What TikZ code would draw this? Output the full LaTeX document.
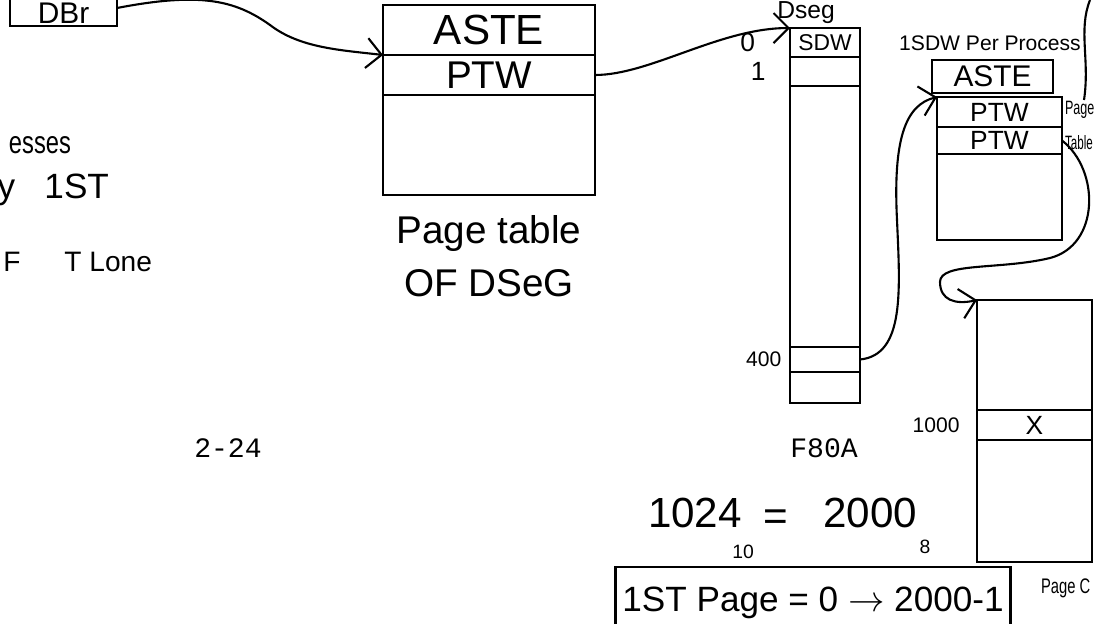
\documentclass[tikz,border=0pt]{standalone}
\usepackage{fontspec}
\setmainfont{Liberation Sans}
\newfontfamily\typefont{Liberation Mono}
\usetikzlibrary{positioning}
\usetikzlibrary{arrows.meta}

\begin{document}
\begin{tikzpicture}[
    x=0.02cm, y=-0.02cm,
    line width=1.2pt,
    hand/.style={font=\fontsize{#1}{#1}\selectfont},
    box/.style={draw, rectangle, inner sep=0pt, outer sep=0pt, align=center},
    typed/.style={font=\typefont\fontsize{16pt}{16pt}\selectfont},
    arrow/.style={-{Straight Barb[length=3mm, width=6mm]}}
]
\useasboundingbox (0,0) rectangle (1094,623);
\clip (0,0) rectangle (1094,623);

% ====================
%     Page table of DSeg
% ====================

% DBr register
\node[box, hand=17pt, minimum width=2.14cm, minimum height=0.72cm, text height=0.6cm, text depth=0pt] (dbr) at (63.5,8) {DBr};

% Nodes
\node[box, hand=24pt, minimum width=4.24cm, minimum height=1cm] (pt_aste) at (489,30) {ASTE};
\node[box, hand=22pt, minimum width=4.24cm, minimum height=0.8cm, below=0pt of pt_aste] (pt_ptw) {PTW};
\node[box, minimum width=4.24cm, minimum height=2cm, below=0pt of pt_ptw] (pt_rest) {};

% Label
\node[hand=22pt, align=center, below=8pt of pt_rest] (pt_label) {Page table\\[8pt]OF DSeG};

% ====================
%     DSeg
% ====================
\node[box, minimum width=1.4cm, minimum height=7.5cm] (dseg) at (825,215.5) {};
\node[box, hand=13pt, minimum width=1.4cm, minimum height=0.58cm, below=0pt of dseg.north] (dseg_0) {SDW};
\node[box, minimum width=1.4cm, minimum height=0.58cm, below=0pt of dseg_0] (dseg_1) {};
\node[box, minimum width=1.4cm, minimum height=0.5cm] (dseg_400) at (825,359.5) {};

\node[hand=14pt] (dseg_name) at (806,13) {Dseg};
\node[hand=15pt, left=16pt of dseg_0] (num_0) {0};
\node[hand=15pt, left=10pt of dseg_1] (num_1) {1};
\node[hand=12pt, left=1pt of dseg_400] (num_400) {400};

\node[typed] (page_no) at (228,448) {2-24};
\node[typed] (sheet_id) at (824,448) {F80A};

% ====================
%     Per process page table
% ====================
\node[hand=12pt] (per_proc) at (990,43) {1SDW Per Process};
\node[box, hand=17pt, minimum width=2.42cm, minimum height=0.66cm] (p_aste) at (992.5,76.5) {ASTE};
\node[box, hand=15pt, minimum width=2.5cm, minimum height=0.6cm] (p_ptw1) at (999.5,112) {PTW};
\node[box, hand=15pt, minimum width=2.5cm, minimum height=0.54cm, below=0pt of p_ptw1] (p_ptw2) {PTW};
\node[box, minimum width=2.5cm, minimum height=1.72cm, below=0pt of p_ptw2] (p_rest) {};

\node[hand=11pt, anchor=west, inner xsep=0pt] (pg_word) at (1064,110) {\scalebox{0.65}[1]{Page}};
\node[hand=11pt, anchor=west, inner xsep=0pt] (tab_word) at (1064,143) {\scalebox{0.6}[1]{Table}};

% ====================
%     Page
% ====================
\node[box, minimum width=2.3cm, minimum height=5.24cm, anchor=north west] (pg) at (977,300) {};
\node[box, hand=15pt, minimum width=2.3cm, minimum height=0.6cm, anchor=north west] (pg_x) at (977,410) {X};
\node[hand=12pt, left=6pt of pg_x] (num_1000) {1000};
\node[hand=12pt, anchor=west, inner xsep=0pt] (pgc_word) at (1040,588) {\scalebox{0.7}[1]{Page C}};

% ====================
%     Notes
% ====================
\node[hand=18pt, anchor=east, inner xsep=0pt] (note_a) at (72,145) {\scalebox{0.75}[1]{esses}};
\node[hand=20pt, anchor=east, inner xsep=0pt] (note_b) at (110,190) {y\ \ \ 1ST};
\node[hand=16pt, anchor=east, inner xsep=0pt] (note_c) at (153,262) {F\hspace{25pt}T\ Lone};

\node[hand=24pt] (dec) at (695,513) {1024};
\node[hand=11pt] (dec_base) at (743,552) {10};
\node[hand=24pt] (eq) at (776,520) {=};
\node[hand=24pt] (oct) at (870,513) {2000};
\node[hand=11pt] (oct_base) at (925,547) {8};

\node[box, hand=20pt, minimum width=7.9cm, minimum height=1.44cm] (first_page) at (813,603) {1ST Page = 0 \(\rightarrow\) 2000-1};

% Connections
\draw[arrow] (dbr.east) .. controls (200,-8) and (235,0) .. (270,25) .. controls (300,48) and (340,50) .. (pt_aste.south west);
\draw[arrow] (pt_ptw.east) .. controls (650,75) and (720,28) .. (dseg.north west);
\draw[arrow] (dseg_400.east) .. controls (905,355) and (900,290) .. (897,220) .. controls (893,140) and (905,105) .. (p_ptw1.north west);
\draw[arrow] (p_ptw2.east) .. controls (1100,170) and (1100,245) .. (1050,258) .. controls (1000,270) and (940,262) .. (940,282) .. controls (940,300) and (955,305) .. (pg.north west);

\coordinate (top_end) at (1090,0);
\draw (top_end) .. controls (1078,30) and (1090,60) .. (1084,100);

\end{tikzpicture}
\end{document}
